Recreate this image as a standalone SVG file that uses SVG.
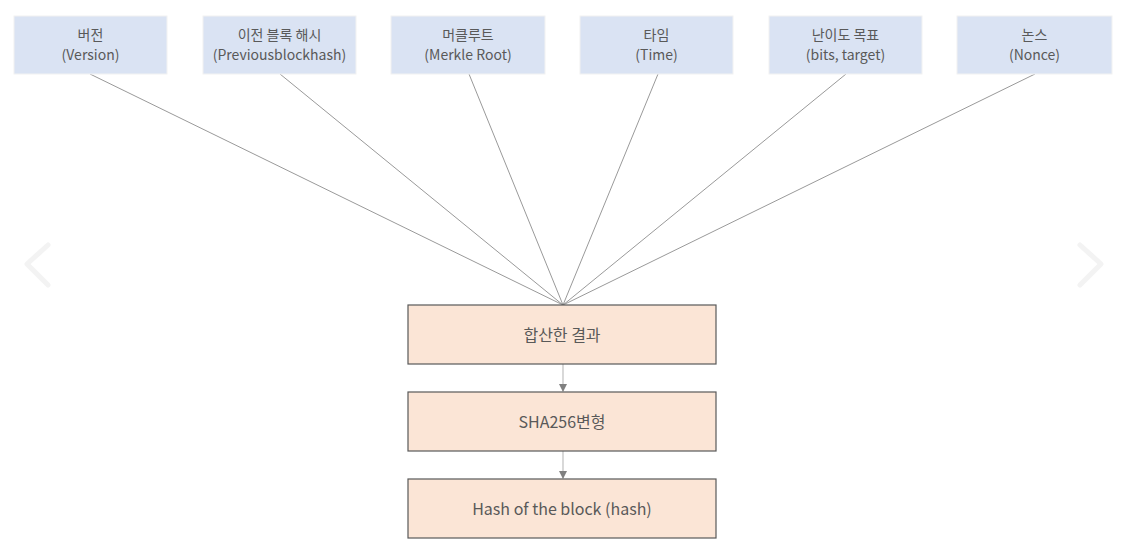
<svg xmlns="http://www.w3.org/2000/svg" width="1128" height="557" viewBox="0 0 1128 557">
<style>
.top{fill:#dae3f3;stroke:#f2f2f2;stroke-width:1}
.bot{fill:#fbe5d6;stroke:#595959;stroke-width:1.2}
text{font-family:"Noto Sans CJK KR","Noto Sans",sans-serif;font-size:14px;fill:#595959;text-anchor:middle}
.bt{font-size:16px}
.ln{stroke:#7f7f7f;stroke-width:0.8;fill:none}
.ar{stroke:#bfbfbf;stroke-width:1.2;fill:none}
.chev{stroke:#f3f3f3;stroke-width:5;stroke-linecap:round;stroke-linejoin:round;fill:none}
</style>
<defs>
<marker id="ah" markerWidth="8" markerHeight="8" refX="7" refY="4" orient="auto" markerUnits="userSpaceOnUse">
<path d="M0,0 L8,4 L0,8 Z" fill="#808080"/>
</marker>
</defs>
<rect width="1128" height="557" fill="#ffffff"/>
<path class="chev" d="M48,245 L27,264 L48,285"/>
<path class="chev" d="M1080,245 L1101,264 L1080,285"/>
<g id="connectors">
<line class="ln" x1="90" y1="74" x2="563" y2="305"/>
<line class="ln" x1="280" y1="74" x2="563" y2="305"/>
<line class="ln" x1="469" y1="74" x2="563" y2="305"/>
<line class="ln" x1="658" y1="74" x2="563" y2="305"/>
<line class="ln" x1="846" y1="74" x2="563" y2="305"/>
<line class="ln" x1="1035" y1="74" x2="563" y2="305"/>
<line class="ar" x1="563" y1="364" x2="563" y2="391" marker-end="url(#ah)"/>
<line class="ar" x1="563" y1="451" x2="563" y2="478" marker-end="url(#ah)"/>
</g>
<g id="n-version"><rect class="top" x="14" y="16" width="153" height="58"/><text x="90.5" y="40">버전</text><text x="90.5" y="60">(Version)</text></g>
<g id="n-prev"><rect class="top" x="203" y="16" width="153" height="58"/><text x="279.5" y="40">이전 블록 해시</text><text x="279.5" y="60">(Previousblockhash)</text></g>
<g id="n-merkle"><rect class="top" x="391" y="16" width="154" height="58"/><text x="468" y="40">머클루트</text><text x="468" y="60">(Merkle Root)</text></g>
<g id="n-time"><rect class="top" x="580" y="16" width="153" height="58"/><text x="656.5" y="40">타임</text><text x="656.5" y="60">(Time)</text></g>
<g id="n-bits"><rect class="top" x="769" y="16" width="153" height="58"/><text x="845.5" y="40">난이도 목표</text><text x="845.5" y="60">(bits, target)</text></g>
<g id="n-nonce"><rect class="top" x="957" y="16" width="155" height="58"/><text x="1034.5" y="40">논스</text><text x="1034.5" y="60">(Nonce)</text></g>
<g id="n-combined"><rect class="bot" x="408" y="305" width="308" height="59"/><text class="bt" x="562" y="341">합산한 결과</text></g>
<g id="n-sha"><rect class="bot" x="408" y="392" width="308" height="59"/><text class="bt" x="562" y="428">SHA256변형</text></g>
<g id="n-hash"><rect class="bot" x="408" y="479" width="308" height="59"/><text class="bt" x="562" y="515">Hash of the block (hash)</text></g>
</svg>
